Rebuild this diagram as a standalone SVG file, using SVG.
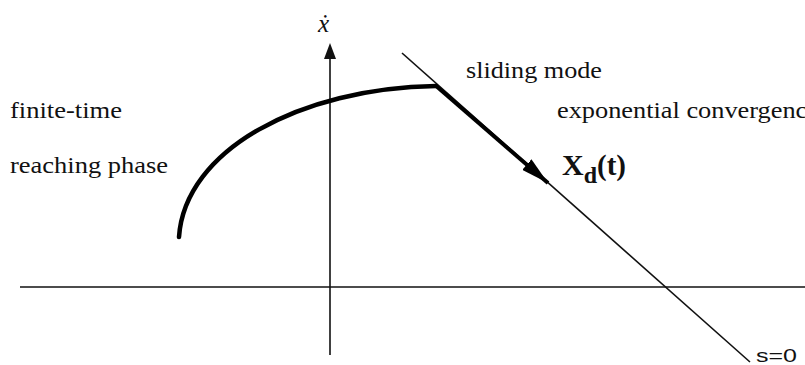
<svg xmlns="http://www.w3.org/2000/svg" width="805" height="365" viewBox="0 0 805 365">
<style>
text{font-family:'Liberation Serif','Times New Roman',Times,'DejaVu Serif',serif;font-size:24px;fill:#111}
.ax{stroke:#111;stroke-width:1.6;fill:none}
</style>
<defs>
<marker id="bh" viewBox="0 0 10 10" refX="10" refY="5" markerWidth="28" markerHeight="14" markerUnits="userSpaceOnUse" orient="auto" preserveAspectRatio="none">
<path d="M0,0 L10,5 L0,10 Z" fill="#000"/>
</marker>
</defs>
<rect width="805" height="365" fill="#fff"/>
<g id="axes">
<line class="ax" x1="20" y1="287" x2="805" y2="287"/>
<path d="M330,355 L330,58" class="ax"/>
<path d="M330,43 L336,59 L324,59 Z" fill="#111"/>
<text x="318" y="32" font-style="italic" style="font-size:25px">ẋ</text>
</g>
<g id="sliding-surface">
<line class="ax" x1="402" y1="53" x2="750" y2="362"/>
<text x="756" y="362" textLength="41" lengthAdjust="spacingAndGlyphs" style="font-family:'Liberation Sans',Arial,sans-serif;font-size:19px">s=0</text>
</g>
<g id="connectors">
<path d="M179,237 C185,150 300,88 436,86" stroke="#000" stroke-width="4.5" fill="none" stroke-linecap="round"/>
<line x1="435" y1="85" x2="548" y2="183" stroke="#000" stroke-width="4" marker-end="url(#bh)"/>
</g>
<g id="labels">
<text x="466" y="78" textLength="136" lengthAdjust="spacingAndGlyphs">sliding mode</text>
<text x="10" y="118" textLength="112" lengthAdjust="spacingAndGlyphs">finite-time</text>
<text x="10" y="173" textLength="158" lengthAdjust="spacingAndGlyphs">reaching phase</text>
<text x="557" y="118" textLength="262" lengthAdjust="spacingAndGlyphs">exponential convergence</text>
<text x="562" y="175" style="font-size:30px;font-weight:bold">X<tspan style="font-size:24px" dy="8">d</tspan><tspan dy="-8" style="font-size:29px">(t)</tspan></text>
</g>
</svg>
